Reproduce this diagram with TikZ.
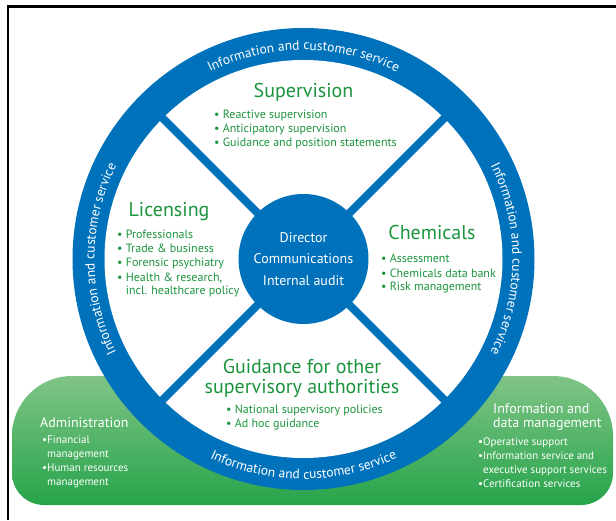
\documentclass[tikz,border=0pt]{standalone}
\usepackage{fontspec}
\setmainfont{PT Sans}
\usetikzlibrary{decorations.text}
\definecolor{blueC}{RGB}{0,114,188}
\definecolor{greenT}{RGB}{28,148,62}
\definecolor{greenL}{RGB}{128,196,134}
\definecolor{greenD}{RGB}{38,164,74}
\begin{document}
\begin{tikzpicture}[x=1pt,y=1pt,
  title/.style={text=greenT, font=\fontsize{20}{20}\selectfont, anchor=base, inner sep=0, align=center},
  items/.style={text=greenT, font=\fontsize{12}{14}\selectfont, align=left, anchor=base west, inner sep=0},
  wtitle/.style={text=white, font=\fontsize{14}{13.5}\selectfont, align=left, anchor=base west, inner sep=0},
  witems/.style={text=white, font=\fontsize{11}{14}\selectfont, align=left, anchor=base west, inner sep=0},
  ringtext/.style={decorate, decoration={text along path, text align=center, text color=white,
     text={|\fontsize{13.5}{15}\selectfont|Information and customer service}}}
]
\useasboundingbox (0,0) rectangle (616,520);
% frame
\draw[line width=2.2] (8,0) -- (8,513.5) -- (616,513.5);
% green base
\shade[top color=greenL, bottom color=greenD]
  (44,15) -- (581,15) arc[start angle=270,end angle=360,radius=32]
  -- (613,84) arc[start angle=0,end angle=90,radius=60]
  -- (72,144) arc[start angle=90,end angle=180,radius=60]
  -- (12,47) arc[start angle=180,end angle=270,radius=32] -- cycle;
% wheel
\begin{scope}[shift={(303.5,261)}]
  \fill[blueC] (0,0) circle[radius=231];
  \fill[white] (0,0) circle[radius=199];
  \foreach \a in {45,135,225,315} \draw[blueC, line width=8] (0,0) -- (\a:203);
  \node[circle, fill=blueC, minimum size=130pt, inner sep=0, text=white, align=center,
        font=\fontsize{14}{21.5}\selectfont] (hub) at (0,0) {Director\\Communications\\Internal audit};
  \path[ringtext] (150:209) arc[start angle=150, end angle=30, radius=209];
  \path[ringtext] (215:209) arc[start angle=215, end angle=145, radius=209];
  \path[ringtext] (35:209) arc[start angle=35, end angle=-35, radius=209];
  \path[ringtext] (210:220) arc[start angle=210, end angle=330, radius=220];
\end{scope}
% sectors (anchor = baseline of the last line)
\node[title] (supt) at (303.5,422) {Supervision};
\node[items] (supi) at (214,373) {\textbullet\ Reactive supervision\\\textbullet\ Anticipatory supervision\\\textbullet\ Guidance and position statements};
\node[title] (lict) at (169,303) {Licensing};
\node[items] (lici) at (117,225) {\textbullet\ Professionals\\\textbullet\ Trade \& business\\\textbullet\ Forensic psychiatry\\\textbullet\ Health \& research,\\\hphantom{\textbullet\ }incl. healthcare policy};
\node[title] (chet) at (432,280) {Chemicals};
\node[items] (chei) at (381,229) {\textbullet\ Assessment\\\textbullet\ Chemicals data bank\\\textbullet\ Risk management};
\node[title] (guit) at (302,127) {Guidance for other\\supervisory authorities};
\node[items] (guii) at (226,93) {\textbullet\ National supervisory policies\\\textbullet\ Ad hoc guidance};
% green side boxes
\node[wtitle] (admt) at (40,93) {Administration};
\node[witems] (admi) at (42,35) {\textbullet Financial\\\hphantom{\textbullet}management\\\textbullet Human resources\\\hphantom{\textbullet}management};
\node[wtitle] (inft) at (493,93) {Information and\\data management};
\node[witems] (infi) at (478,33) {\textbullet Operative support\\\textbullet Information service and\\\hphantom{\textbullet}executive support services\\\textbullet Certification services};
\end{tikzpicture}
\end{document}
